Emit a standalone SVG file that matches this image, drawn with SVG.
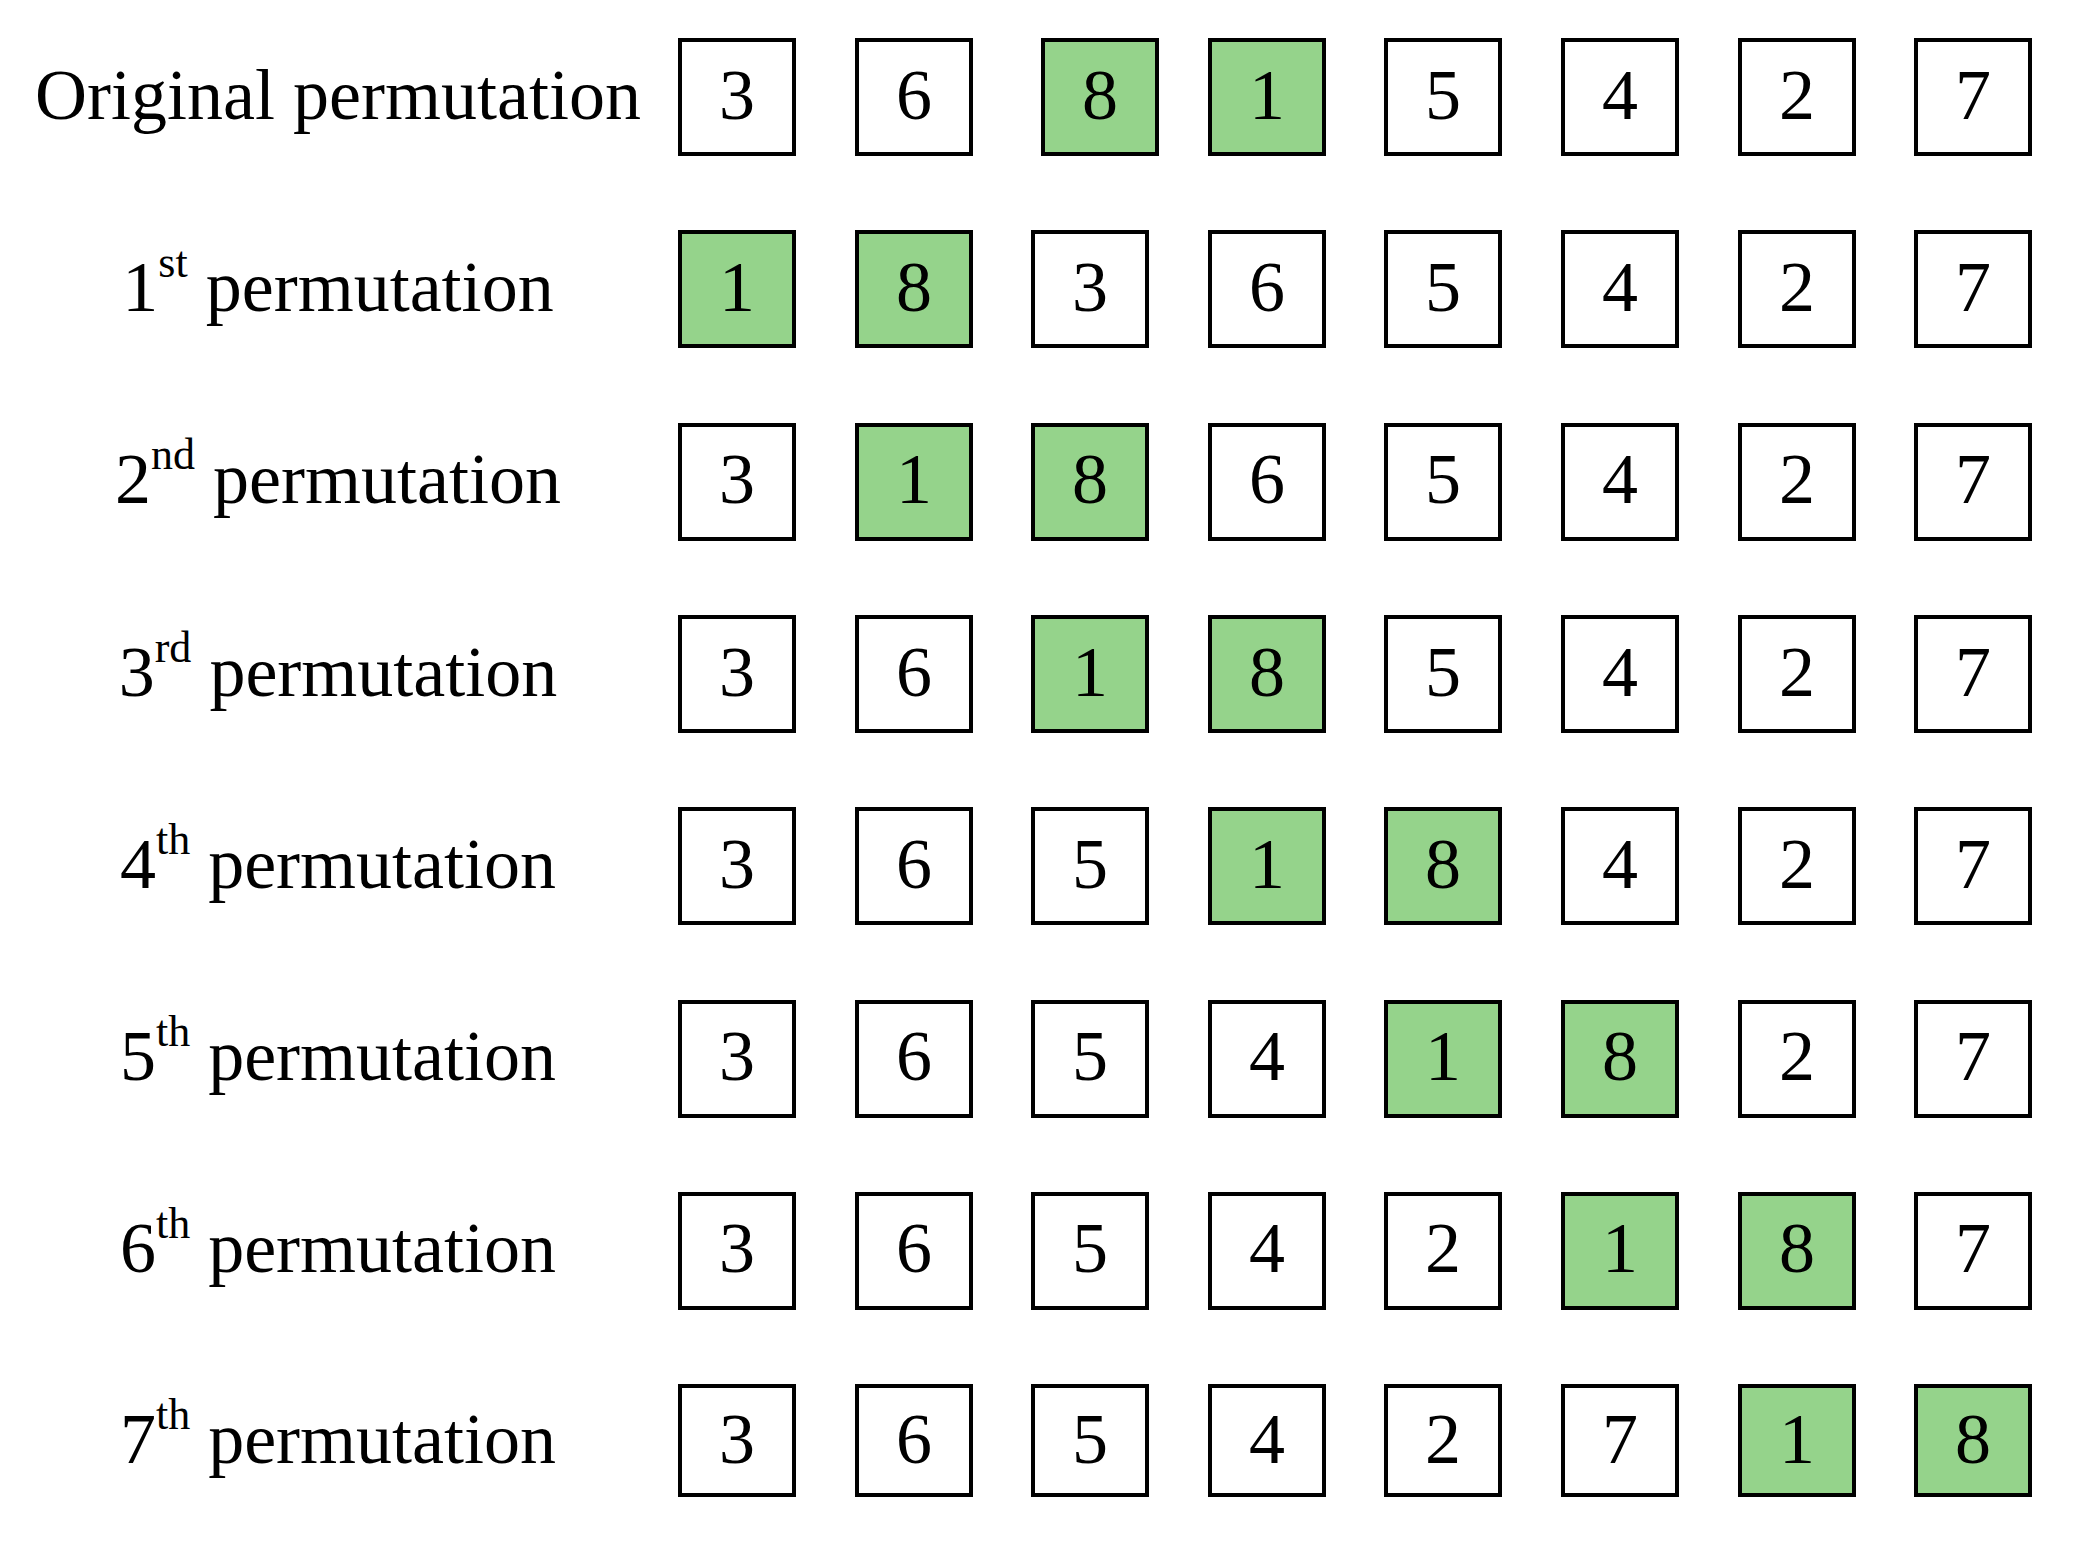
<svg xmlns="http://www.w3.org/2000/svg" width="2092" height="1563" viewBox="0 0 2092 1563">
<style>
.b{fill:#ffffff;stroke:#000000;stroke-width:4}
.g{fill:#95d38b;stroke:#000000;stroke-width:4}
.d{font-family:"Liberation Serif","Times New Roman",serif;font-size:72px;fill:#000;text-anchor:middle}
.l{font-family:"Liberation Serif","Times New Roman",serif;font-size:72px;fill:#000;text-anchor:middle}
.s{font-size:44px}
</style>
<rect width="2092" height="1563" fill="#ffffff"/>
<g id="labels">
<text id="label-0" class="l" x="338" y="119">Original permutation</text>
<text id="label-1" class="l" x="338" y="311">1<tspan class="s" dy="-34">st</tspan><tspan dy="34"> permutation</tspan></text>
<text id="label-2" class="l" x="338" y="503">2<tspan class="s" dy="-34">nd</tspan><tspan dy="34"> permutation</tspan></text>
<text id="label-3" class="l" x="338" y="696">3<tspan class="s" dy="-34">rd</tspan><tspan dy="34"> permutation</tspan></text>
<text id="label-4" class="l" x="338" y="888">4<tspan class="s" dy="-34">th</tspan><tspan dy="34"> permutation</tspan></text>
<text id="label-5" class="l" x="338" y="1080">5<tspan class="s" dy="-34">th</tspan><tspan dy="34"> permutation</tspan></text>
<text id="label-6" class="l" x="338" y="1272">6<tspan class="s" dy="-34">th</tspan><tspan dy="34"> permutation</tspan></text>
<text id="label-7" class="l" x="338" y="1463">7<tspan class="s" dy="-34">th</tspan><tspan dy="34"> permutation</tspan></text>
</g>
<g id="row-0">
<g id="r0c0"><rect class="b" x="680" y="40" width="114" height="114"/><text class="d" x="737" y="119">3</text></g>
<g id="r0c1"><rect class="b" x="857" y="40" width="114" height="114"/><text class="d" x="914" y="119">6</text></g>
<g id="r0c2"><rect class="g" x="1043" y="40" width="114" height="114"/><text class="d" x="1100" y="119">8</text></g>
<g id="r0c3"><rect class="g" x="1210" y="40" width="114" height="114"/><text class="d" x="1267" y="119">1</text></g>
<g id="r0c4"><rect class="b" x="1386" y="40" width="114" height="114"/><text class="d" x="1443" y="119">5</text></g>
<g id="r0c5"><rect class="b" x="1563" y="40" width="114" height="114"/><text class="d" x="1620" y="119">4</text></g>
<g id="r0c6"><rect class="b" x="1740" y="40" width="114" height="114"/><text class="d" x="1797" y="119">2</text></g>
<g id="r0c7"><rect class="b" x="1916" y="40" width="114" height="114"/><text class="d" x="1973" y="119">7</text></g>
</g>
<g id="row-1">
<g id="r1c0"><rect class="g" x="680" y="232" width="114" height="114"/><text class="d" x="737" y="311">1</text></g>
<g id="r1c1"><rect class="g" x="857" y="232" width="114" height="114"/><text class="d" x="914" y="311">8</text></g>
<g id="r1c2"><rect class="b" x="1033" y="232" width="114" height="114"/><text class="d" x="1090" y="311">3</text></g>
<g id="r1c3"><rect class="b" x="1210" y="232" width="114" height="114"/><text class="d" x="1267" y="311">6</text></g>
<g id="r1c4"><rect class="b" x="1386" y="232" width="114" height="114"/><text class="d" x="1443" y="311">5</text></g>
<g id="r1c5"><rect class="b" x="1563" y="232" width="114" height="114"/><text class="d" x="1620" y="311">4</text></g>
<g id="r1c6"><rect class="b" x="1740" y="232" width="114" height="114"/><text class="d" x="1797" y="311">2</text></g>
<g id="r1c7"><rect class="b" x="1916" y="232" width="114" height="114"/><text class="d" x="1973" y="311">7</text></g>
</g>
<g id="row-2">
<g id="r2c0"><rect class="b" x="680" y="425" width="114" height="114"/><text class="d" x="737" y="503">3</text></g>
<g id="r2c1"><rect class="g" x="857" y="425" width="114" height="114"/><text class="d" x="914" y="503">1</text></g>
<g id="r2c2"><rect class="g" x="1033" y="425" width="114" height="114"/><text class="d" x="1090" y="503">8</text></g>
<g id="r2c3"><rect class="b" x="1210" y="425" width="114" height="114"/><text class="d" x="1267" y="503">6</text></g>
<g id="r2c4"><rect class="b" x="1386" y="425" width="114" height="114"/><text class="d" x="1443" y="503">5</text></g>
<g id="r2c5"><rect class="b" x="1563" y="425" width="114" height="114"/><text class="d" x="1620" y="503">4</text></g>
<g id="r2c6"><rect class="b" x="1740" y="425" width="114" height="114"/><text class="d" x="1797" y="503">2</text></g>
<g id="r2c7"><rect class="b" x="1916" y="425" width="114" height="114"/><text class="d" x="1973" y="503">7</text></g>
</g>
<g id="row-3">
<g id="r3c0"><rect class="b" x="680" y="617" width="114" height="114"/><text class="d" x="737" y="696">3</text></g>
<g id="r3c1"><rect class="b" x="857" y="617" width="114" height="114"/><text class="d" x="914" y="696">6</text></g>
<g id="r3c2"><rect class="g" x="1033" y="617" width="114" height="114"/><text class="d" x="1090" y="696">1</text></g>
<g id="r3c3"><rect class="g" x="1210" y="617" width="114" height="114"/><text class="d" x="1267" y="696">8</text></g>
<g id="r3c4"><rect class="b" x="1386" y="617" width="114" height="114"/><text class="d" x="1443" y="696">5</text></g>
<g id="r3c5"><rect class="b" x="1563" y="617" width="114" height="114"/><text class="d" x="1620" y="696">4</text></g>
<g id="r3c6"><rect class="b" x="1740" y="617" width="114" height="114"/><text class="d" x="1797" y="696">2</text></g>
<g id="r3c7"><rect class="b" x="1916" y="617" width="114" height="114"/><text class="d" x="1973" y="696">7</text></g>
</g>
<g id="row-4">
<g id="r4c0"><rect class="b" x="680" y="809" width="114" height="114"/><text class="d" x="737" y="888">3</text></g>
<g id="r4c1"><rect class="b" x="857" y="809" width="114" height="114"/><text class="d" x="914" y="888">6</text></g>
<g id="r4c2"><rect class="b" x="1033" y="809" width="114" height="114"/><text class="d" x="1090" y="888">5</text></g>
<g id="r4c3"><rect class="g" x="1210" y="809" width="114" height="114"/><text class="d" x="1267" y="888">1</text></g>
<g id="r4c4"><rect class="g" x="1386" y="809" width="114" height="114"/><text class="d" x="1443" y="888">8</text></g>
<g id="r4c5"><rect class="b" x="1563" y="809" width="114" height="114"/><text class="d" x="1620" y="888">4</text></g>
<g id="r4c6"><rect class="b" x="1740" y="809" width="114" height="114"/><text class="d" x="1797" y="888">2</text></g>
<g id="r4c7"><rect class="b" x="1916" y="809" width="114" height="114"/><text class="d" x="1973" y="888">7</text></g>
</g>
<g id="row-5">
<g id="r5c0"><rect class="b" x="680" y="1002" width="114" height="114"/><text class="d" x="737" y="1080">3</text></g>
<g id="r5c1"><rect class="b" x="857" y="1002" width="114" height="114"/><text class="d" x="914" y="1080">6</text></g>
<g id="r5c2"><rect class="b" x="1033" y="1002" width="114" height="114"/><text class="d" x="1090" y="1080">5</text></g>
<g id="r5c3"><rect class="b" x="1210" y="1002" width="114" height="114"/><text class="d" x="1267" y="1080">4</text></g>
<g id="r5c4"><rect class="g" x="1386" y="1002" width="114" height="114"/><text class="d" x="1443" y="1080">1</text></g>
<g id="r5c5"><rect class="g" x="1563" y="1002" width="114" height="114"/><text class="d" x="1620" y="1080">8</text></g>
<g id="r5c6"><rect class="b" x="1740" y="1002" width="114" height="114"/><text class="d" x="1797" y="1080">2</text></g>
<g id="r5c7"><rect class="b" x="1916" y="1002" width="114" height="114"/><text class="d" x="1973" y="1080">7</text></g>
</g>
<g id="row-6">
<g id="r6c0"><rect class="b" x="680" y="1194" width="114" height="114"/><text class="d" x="737" y="1272">3</text></g>
<g id="r6c1"><rect class="b" x="857" y="1194" width="114" height="114"/><text class="d" x="914" y="1272">6</text></g>
<g id="r6c2"><rect class="b" x="1033" y="1194" width="114" height="114"/><text class="d" x="1090" y="1272">5</text></g>
<g id="r6c3"><rect class="b" x="1210" y="1194" width="114" height="114"/><text class="d" x="1267" y="1272">4</text></g>
<g id="r6c4"><rect class="b" x="1386" y="1194" width="114" height="114"/><text class="d" x="1443" y="1272">2</text></g>
<g id="r6c5"><rect class="g" x="1563" y="1194" width="114" height="114"/><text class="d" x="1620" y="1272">1</text></g>
<g id="r6c6"><rect class="g" x="1740" y="1194" width="114" height="114"/><text class="d" x="1797" y="1272">8</text></g>
<g id="r6c7"><rect class="b" x="1916" y="1194" width="114" height="114"/><text class="d" x="1973" y="1272">7</text></g>
</g>
<g id="row-7">
<g id="r7c0"><rect class="b" x="680" y="1386" width="114" height="109"/><text class="d" x="737" y="1463">3</text></g>
<g id="r7c1"><rect class="b" x="857" y="1386" width="114" height="109"/><text class="d" x="914" y="1463">6</text></g>
<g id="r7c2"><rect class="b" x="1033" y="1386" width="114" height="109"/><text class="d" x="1090" y="1463">5</text></g>
<g id="r7c3"><rect class="b" x="1210" y="1386" width="114" height="109"/><text class="d" x="1267" y="1463">4</text></g>
<g id="r7c4"><rect class="b" x="1386" y="1386" width="114" height="109"/><text class="d" x="1443" y="1463">2</text></g>
<g id="r7c5"><rect class="b" x="1563" y="1386" width="114" height="109"/><text class="d" x="1620" y="1463">7</text></g>
<g id="r7c6"><rect class="g" x="1740" y="1386" width="114" height="109"/><text class="d" x="1797" y="1463">1</text></g>
<g id="r7c7"><rect class="g" x="1916" y="1386" width="114" height="109"/><text class="d" x="1973" y="1463">8</text></g>
</g>
</svg>
